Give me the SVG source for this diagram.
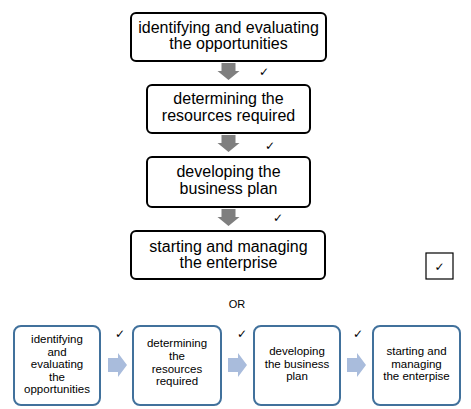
<svg xmlns="http://www.w3.org/2000/svg" width="471" height="409" viewBox="0 0 471 409">
<style>
.bg{fill:#fff}
.tb{fill:#fff;stroke:#000;stroke-width:2}
.bb{fill:#fff;stroke:#41719c;stroke-width:2}
.t1{font-family:"Liberation Sans",Arial,sans-serif;font-size:16px;fill:#000;text-anchor:middle}
.t2{font-family:"Liberation Sans",Arial,sans-serif;font-size:11.5px;fill:#000;text-anchor:middle}
.or{font-family:"Liberation Sans",Arial,sans-serif;font-size:11px;fill:#000;text-anchor:middle}
.ck{font-family:"DejaVu Sans",sans-serif;font-size:12px;fill:#000;text-anchor:middle}
.ga{fill:#7f7f7f}
.ba{fill:#a9bcdc}
</style>
<defs>
<path id="da" d="M-7,0 H7 V8 H11 L0,17 L-11,8 H-7 Z"/>
<path id="ra" d="M0,-7 V7 H10 V12 L19,0 L10,-12 V-7 Z"/>
</defs>
<rect class="bg" width="471" height="409"/>
<g id="connectors">
<use href="#da" class="ga" x="228.5" y="63"/>
<use href="#da" class="ga" x="228.5" y="135"/>
<use href="#da" class="ga" x="228.5" y="209"/>
<use href="#ra" class="ba" x="108" y="365"/>
<use href="#ra" class="ba" x="228" y="365"/>
<use href="#ra" class="ba" x="347" y="365"/>
</g>
<g id="checks">
<text class="ck" x="264" y="76">✓</text>
<text class="ck" x="270" y="150">✓</text>
<text class="ck" x="278" y="222">✓</text>
<text class="ck" x="120" y="338">✓</text>
<text class="ck" x="242" y="338">✓</text>
<text class="ck" x="358" y="338">✓</text>
</g>
<g id="checkbox">
<rect x="426" y="253" width="27" height="26" fill="#fff" stroke="#000" stroke-width="1.2"/>
<text class="ck" x="439.5" y="271">✓</text>
</g>
<g id="n1">
<rect class="tb" x="131" y="13" width="195" height="48" rx="5"/>
<text class="t1" x="228.5" y="33">identifying and evaluating</text>
<text class="t1" x="228.5" y="49">the opportunities</text>
</g>
<g id="n2">
<rect class="tb" x="147" y="85" width="163" height="48" rx="5"/>
<text class="t1" x="228.5" y="104">determining the</text>
<text class="t1" x="228.5" y="121">resources required</text>
</g>
<g id="n3">
<rect class="tb" x="147" y="157" width="163" height="50" rx="5"/>
<text class="t1" x="228.5" y="177">developing the</text>
<text class="t1" x="228.5" y="194">business plan</text>
</g>
<g id="n4">
<rect class="tb" x="131" y="231" width="194" height="48" rx="5"/>
<text class="t1" x="228.5" y="252">starting and managing</text>
<text class="t1" x="228.5" y="268">the enterprise</text>
</g>
<text id="or" class="or" x="237" y="308">OR</text>
<g id="b1">
<rect class="bb" x="14" y="326" width="86" height="79" rx="7"/>
<text class="t2" x="57" y="343">identifying</text>
<text class="t2" x="57" y="355.5">and</text>
<text class="t2" x="57" y="368">evaluating</text>
<text class="t2" x="57" y="380.5">the</text>
<text class="t2" x="57" y="393">opportunities</text>
</g>
<g id="b2">
<rect class="bb" x="133" y="326" width="88" height="79" rx="7"/>
<text class="t2" x="177" y="347">determining</text>
<text class="t2" x="177" y="360">the</text>
<text class="t2" x="177" y="373">resources</text>
<text class="t2" x="177" y="385">required</text>
</g>
<g id="b3">
<rect class="bb" x="254" y="326" width="86" height="79" rx="7"/>
<text class="t2" x="297" y="355">developing</text>
<text class="t2" x="297" y="367.5">the business</text>
<text class="t2" x="297" y="380">plan</text>
</g>
<g id="b4">
<rect class="bb" x="373" y="326" width="87" height="79" rx="7"/>
<text class="t2" x="416.5" y="355">starting and</text>
<text class="t2" x="416.5" y="367.5">managing</text>
<text class="t2" x="416.5" y="380">the enterpise</text>
</g>
</svg>
